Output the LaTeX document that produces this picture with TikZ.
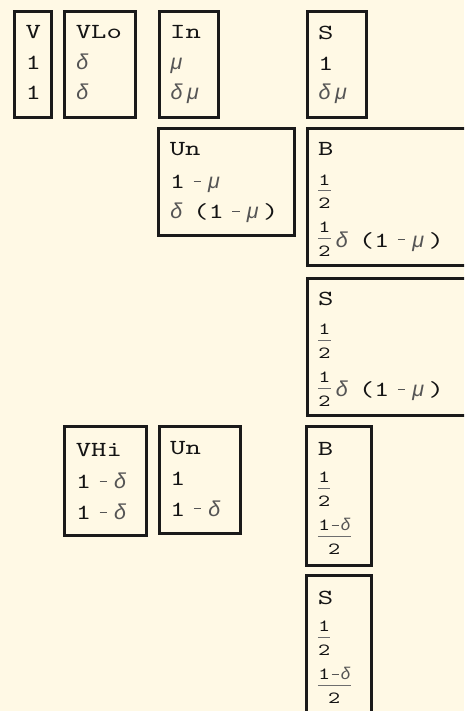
\documentclass[tikz,border=0pt]{standalone}
\usepackage{fontspec}
\setmonofont{lmmono10-regular.otf}[FakeStretch=1.36]
\newfontfamily\greekfont{Liberation Sans}

\definecolor{paper}{RGB}{255,249,229}
\definecolor{frame}{RGB}{26,26,26}
\definecolor{ink}{RGB}{20,20,20}
\definecolor{greek}{RGB}{85,85,85}
\definecolor{fracbar}{RGB}{110,110,110}

\newsavebox\numbox
\newsavebox\denbox
\newlength\fracw

% grey italic Greek letters
\newcommand\gk[1]{{\color{greek}\greekfont\itshape #1}}
% grey minus: left gap, right gap, height above the baseline
\newcommand\mn[3]{\hspace*{#1}{\color{greek}\rule[#3]{7.5pt}{1.1pt}}\hspace*{#2}}
\newcommand\mnm{\mn{8.4pt}{7pt}{6.6pt}}
% stacked fraction whose bar sits 8.7pt above the baseline
\newcommand\frc[2]{%
  \sbox\numbox{\fontsize{17}{17}\selectfont #1}%
  \sbox\denbox{\fontsize{17}{17}\selectfont #2}%
  \setlength\fracw{\wd\numbox}%
  \ifdim\wd\denbox>\fracw\setlength\fracw{\wd\denbox}\fi
  \addtolength\fracw{0.5pt}%
  \makebox[\fracw][l]{%
    \rlap{\raisebox{14.2pt}{\makebox[\fracw]{\usebox\numbox}}}%
    \rlap{\raisebox{8.2pt}{\color{fracbar}\rule{\fracw}{1pt}}}%
    \rlap{\raisebox{-9.6pt}{\makebox[\fracw]{\usebox\denbox}}}%
  }}
\newcommand\half{\frc{1}{2}}
\newcommand\halfd{\frc{1\mn{1.5pt}{1.7pt}{4.7pt}\gk{δ}}{2}}

% framed cell, corners named <name>-nw and <name>-se
\newcommand\cellbox[5]{\draw[cell] (#2,#3) coordinate (#1-nw) rectangle (#4,#5) coordinate (#1-se);}

\begin{document}
\begin{tikzpicture}[x=1pt,y=-1pt,
  cell/.style={draw=frame, line width=3pt},
  entry/.style={anchor=base west, inner sep=0pt, outer sep=0pt, text=ink,
    font=\ttfamily\fontsize{21.5}{25}\selectfont}]
\useasboundingbox (0,0) rectangle (464,711);
\fill[paper] (0,0) rectangle (464,711);
\clip (0,0) rectangle (464,711);

% frames
\cellbox{v}{14.5}{11.5}{51.8}{117.5}
\cellbox{vlo}{64.8}{11.5}{135.2}{117.5}
\cellbox{in}{159.2}{11.5}{218.5}{117.5}
\cellbox{s1}{307.2}{11.5}{366.8}{117.5}
\cellbox{un1}{158.8}{128.2}{294.2}{235.2}
\cellbox{b1}{307.2}{128.5}{480}{265.8}
\cellbox{s2}{307.2}{278.5}{480}{415.8}
\cellbox{vhi}{64.8}{426.5}{146.8}{535.8}
\cellbox{un2}{159.2}{426.5}{240.8}{533.5}
\cellbox{b2}{306.8}{426.5}{371.8}{565.5}
\cellbox{s3}{306.8}{575.5}{371.8}{730}

% V
\node[entry] (v-a) at (25.5,38.3) {V};
\node[entry] (v-b) at (25.5,70) {1};
\node[entry] (v-c) at (25.5,100) {1};
% VLo
\node[entry] (vlo-a) at (75.8,38.3) {VLo};
\node[entry] (vlo-b) at (76.3,70) {\gk{δ}};
\node[entry] (vlo-c) at (76.3,100) {\gk{δ}};
% In
\node[entry] (in-a) at (170.2,38.3) {In};
\node[entry] (in-b) at (170.7,70) {\gk{μ}};
\node[entry] (in-c) at (170.7,100) {\gk{δ}\hspace*{4.5pt}\gk{μ}};
% S
\node[entry] (s1-a) at (318.2,39.3) {S};
\node[entry] (s1-b) at (318.2,71) {1};
\node[entry] (s1-c) at (318.7,100) {\gk{δ}\hspace*{4.5pt}\gk{μ}};
% Un
\node[entry] (un1-a) at (169.8,156) {Un};
\node[entry] (un1-b) at (169.8,188.3) {1\mnm\gk{μ}};
\node[entry] (un1-c) at (170.3,218.3) {\gk{δ}\hspace*{11pt}(1\mnm\gk{μ}\hspace*{4.5pt})};
% B
\node[entry] (b1-a) at (318.2,155.7) {B};
\node[entry] (b1-b) at (318.2,199.4) {\half};
\node[entry] (b1-c) at (318.2,247) {\half\hspace*{5pt}\gk{δ}\hspace*{11pt}(1\mnm\gk{μ}\hspace*{4.5pt})};
% S
\node[entry] (s2-a) at (318.2,305) {S};
\node[entry] (s2-b) at (318.2,348.7) {\half};
\node[entry] (s2-c) at (318.2,396.7) {\half\hspace*{5pt}\gk{δ}\hspace*{11pt}(1\mnm\gk{μ}\hspace*{4.5pt})};
% VHi
\node[entry] (vhi-a) at (75.8,456) {VHi};
\node[entry] (vhi-b) at (75.8,488.3) {1\mnm\gk{δ}};
\node[entry] (vhi-c) at (75.8,519.3) {1\mnm\gk{δ}};
% Un
\node[entry] (un2-a) at (170.2,454.3) {Un};
\node[entry] (un2-b) at (170.2,485) {1};
\node[entry] (un2-c) at (170.2,516) {1\mnm\gk{δ}};
% B
\node[entry] (b2-a) at (317.8,455) {B};
\node[entry] (b2-b) at (317.8,497) {\half};
\node[entry] (b2-c) at (317.8,544.7) {\halfd};
% S
\node[entry] (s3-a) at (317.8,604) {S};
\node[entry] (s3-b) at (317.8,646) {\half};
\node[entry] (s3-c) at (317.8,693.7) {\halfd};
\end{tikzpicture}
\end{document}
